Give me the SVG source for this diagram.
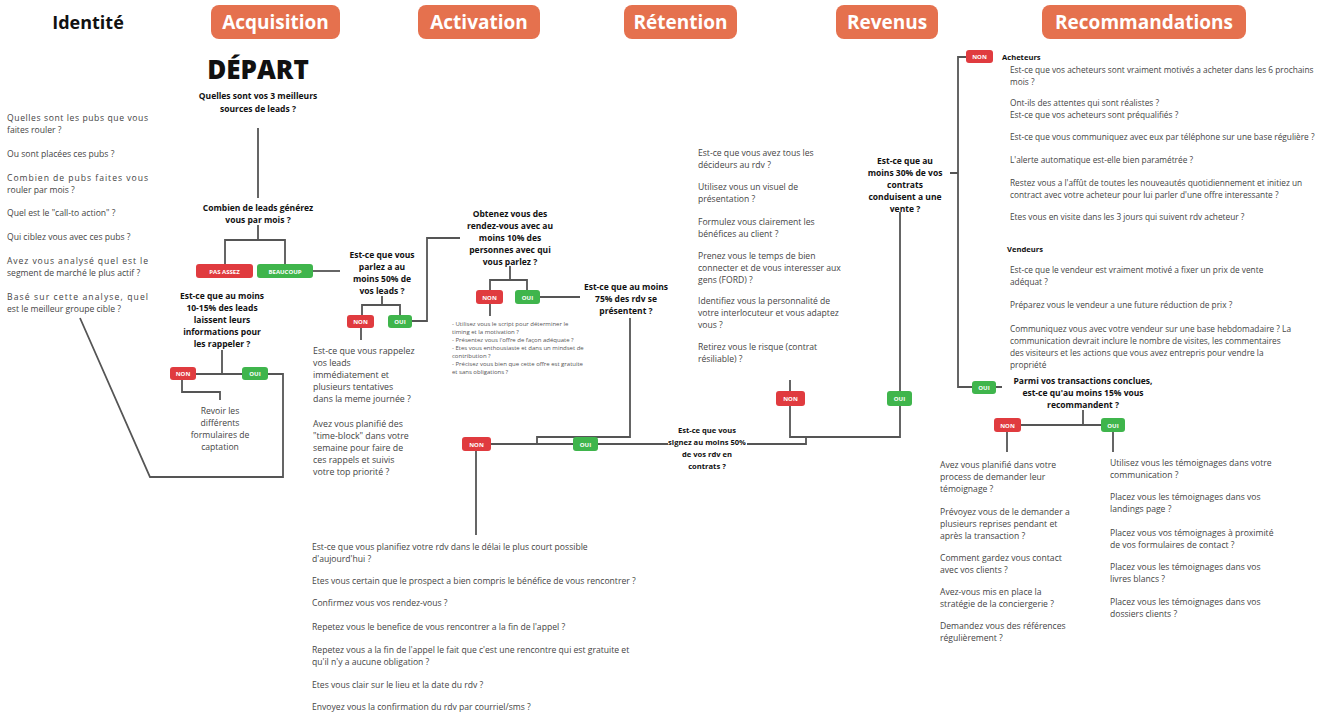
<svg xmlns="http://www.w3.org/2000/svg" width="1341" height="718" viewBox="0 0 1341 718">
<style>
text{font-family:"Open Sans","Liberation Sans",sans-serif;fill:#333}
.h{font-size:19px;font-weight:700;fill:#fff;text-anchor:middle}
.q{font-size:8.5px;font-weight:700;fill:#111;text-anchor:middle}
.t{font-size:8.6px;fill:#444}
.s{font-size:6px;fill:#555}
.bt{font-size:6px;font-weight:700;fill:#fff;text-anchor:middle}
.pill{fill:#E5714E}
.non{fill:#E03B3F}
.oui{fill:#3FB54C}
.c{fill:none;stroke:#555;stroke-width:1.8}
</style>
<rect width="1341" height="718" fill="#fff"/>

<g id="header">
<text x="88" y="29" style="font-size:18px;font-weight:700;fill:#111;text-anchor:middle">Identité</text>
<rect class="pill" x="211" y="5" width="129" height="34" rx="8"/><text class="h" x="275.5" y="29">Acquisition</text>
<rect class="pill" x="418" y="5" width="122" height="34" rx="8"/><text class="h" x="479" y="29">Activation</text>
<rect class="pill" x="624" y="5" width="113" height="34" rx="8"/><text class="h" x="680.5" y="29">Rétention</text>
<rect class="pill" x="836" y="5" width="102" height="34" rx="8"/><text class="h" x="887" y="29">Revenus</text>
<rect class="pill" x="1042" y="5" width="204" height="34" rx="8"/><text class="h" x="1144" y="29">Recommandations</text>
</g>

<g id="connectors">
<path class="c" d="M258 128V198"/>
<path class="c" d="M258 225V240M225 265V240H285V265"/>
<path class="c" d="M313 271H340"/>
<path class="c" d="M222 350V374M196 374H242"/>
<path class="c" d="M268 374H283V477H150L80 318"/>
<path class="c" d="M182 380V392H220V400"/>
<path class="c" d="M382 296V305M362 315V305H400V315"/>
<path class="c" d="M412 321H427V238H460"/>
<path class="c" d="M361 328V340"/>
<path class="c" d="M510 266V280M490 290V280H527V290"/>
<path class="c" d="M540 297H580"/>
<path class="c" d="M490 304V316"/>
<path class="c" d="M630 318V437H537V444"/>
<path class="c" d="M491 444H573M598 444H668"/>
<path class="c" d="M476 451V535"/>
<path class="c" d="M790 380V391M790 406V437H900V406M900 391V212"/>
<path class="c" d="M747 444H806V437"/>
<path class="c" d="M950 173H958M966 57H958V387H972M996 387H1002"/>
<path class="c" d="M1083 410V425M1021 425H1101"/>
<path class="c" d="M1007 432V452M1113 432V452"/>
</g>

<g id="identite">
<text class="t" x="7" y="121" textLength="141" lengthAdjust="spacing">Quelles sont les pubs que vous</text>
<text class="t" x="7" y="133">faites rouler ?</text>
<text class="t" x="7" y="157">Ou sont placées ces pubs ?</text>
<text class="t" x="7" y="181" textLength="141" lengthAdjust="spacing">Combien de pubs faites vous</text>
<text class="t" x="7" y="193">rouler par mois ?</text>
<text class="t" x="7" y="216">Quel est le "call-to action" ?</text>
<text class="t" x="7" y="240">Qui ciblez vous avec ces pubs ?</text>
<text class="t" x="7" y="264" textLength="141" lengthAdjust="spacing">Avez vous analysé quel est le</text>
<text class="t" x="7" y="276">segment de marché le plus actif ?</text>
<text class="t" x="7" y="300" textLength="141" lengthAdjust="spacing">Basé sur cette analyse, quel</text>
<text class="t" x="7" y="312">est le meilleur groupe cible ?</text>
</g>

<g id="depart">
<text x="258" y="79" style="font-size:26px;font-weight:800;fill:#111;text-anchor:middle">DÉPART</text>
<text class="q" x="258" y="99">Quelles sont vos 3 meilleurs</text>
<text class="q" x="258" y="112">sources de leads ?</text>
</g>

<g id="q-combien">
<text class="q" x="258" y="211">Combien de leads générez</text>
<text class="q" x="258" y="223">vous par mois ?</text>
</g>
<g id="b-pasassez"><rect class="non" x="196" y="264" width="57" height="14" rx="3"/><text class="bt" x="224.5" y="273.5">PAS ASSEZ</text></g>
<g id="b-beaucoup"><rect class="oui" x="257" y="264" width="56" height="14" rx="3"/><text class="bt" x="285" y="273.5">BEAUCOUP</text></g>

<g id="q-rappeler">
<text class="q" x="222" y="299">Est-ce que au moins</text>
<text class="q" x="222" y="311">10-15% des leads</text>
<text class="q" x="222" y="323">laissent leurs</text>
<text class="q" x="222" y="335">informations pour</text>
<text class="q" x="222" y="347">les rappeler ?</text>
</g>
<g id="b-non1"><rect class="non" x="170" y="367" width="26" height="13" rx="3"/><text class="bt" x="183" y="376">NON</text></g>
<g id="b-oui1"><rect class="oui" x="242" y="367" width="26" height="13" rx="3"/><text class="bt" x="255" y="376">OUI</text></g>
<g id="t-revoir">
<text class="t" x="220" y="414" text-anchor="middle">Revoir les</text>
<text class="t" x="220" y="426" text-anchor="middle">différents</text>
<text class="t" x="220" y="438" text-anchor="middle">formulaires de</text>
<text class="t" x="220" y="450" text-anchor="middle">captation</text>
</g>

<g id="q-parlez">
<text class="q" x="382" y="258">Est-ce que vous</text>
<text class="q" x="382" y="270">parlez a au</text>
<text class="q" x="382" y="282">moins 50% de</text>
<text class="q" x="382" y="294">vos leads ?</text>
</g>
<g id="b-non2"><rect class="non" x="347" y="315" width="27" height="13" rx="3"/><text class="bt" x="360.5" y="324">NON</text></g>
<g id="b-oui2"><rect class="oui" x="388" y="315" width="24" height="13" rx="3"/><text class="bt" x="400" y="324">OUI</text></g>
<g id="t-rappelez">
<text class="t" x="313" y="354" style="font-size:8.8px">Est-ce que vous rappelez</text>
<text class="t" x="313" y="366" style="font-size:8.8px">vos leads</text>
<text class="t" x="313" y="378" style="font-size:8.8px">immédiatement et</text>
<text class="t" x="313" y="390" style="font-size:8.8px">plusieurs tentatives</text>
<text class="t" x="313" y="402" style="font-size:8.8px">dans la meme journée ?</text>
<text class="t" x="313" y="427" style="font-size:8.8px">Avez vous planifié des</text>
<text class="t" x="313" y="439" style="font-size:8.8px">"time-block" dans votre</text>
<text class="t" x="313" y="451" style="font-size:8.8px">semaine pour faire de</text>
<text class="t" x="313" y="463" style="font-size:8.8px">ces rappels et suivis</text>
<text class="t" x="313" y="475" style="font-size:8.8px">votre top priorité ?</text>
</g>

<g id="q-obtenez">
<text class="q" x="510" y="217">Obtenez vous des</text>
<text class="q" x="510" y="229">rendez-vous avec au</text>
<text class="q" x="510" y="241">moins 10% des</text>
<text class="q" x="510" y="253">personnes avec qui</text>
<text class="q" x="510" y="265">vous parlez ?</text>
</g>
<g id="b-non3"><rect class="non" x="476" y="290" width="27" height="14" rx="3"/><text class="bt" x="489.5" y="299.5">NON</text></g>
<g id="b-oui3"><rect class="oui" x="515" y="290" width="25" height="14" rx="3"/><text class="bt" x="527.5" y="299.5">OUI</text></g>
<g id="t-script">
<text class="s" x="452" y="326">- Utilisez vous le script pour déterminer le</text>
<text class="s" x="452" y="334">timing et la motivation ?</text>
<text class="s" x="452" y="342">- Présentez vous l'offre de façon adéquate ?</text>
<text class="s" x="452" y="350">- Etes vous enthousiaste et dans un mindset de</text>
<text class="s" x="452" y="358">contribution ?</text>
<text class="s" x="452" y="366">- Précisez vous bien que cette offre est gratuite</text>
<text class="s" x="452" y="374">et sans obligations ?</text>
</g>

<g id="q-75">
<text class="q" x="626" y="290">Est-ce que au moins</text>
<text class="q" x="626" y="302">75% des rdv se</text>
<text class="q" x="626" y="314">présentent ?</text>
</g>
<g id="b-non4"><rect class="non" x="462" y="437" width="29" height="14" rx="3"/><text class="bt" x="476.5" y="446.5">NON</text></g>
<g id="b-oui4"><rect class="oui" x="573" y="437" width="25" height="14" rx="3"/><text class="bt" x="585.5" y="446.5">OUI</text></g>

<g id="t-rdv">
<text class="t" x="312" y="550">Est-ce que vous planifiez votre rdv dans le délai le plus court possible</text>
<text class="t" x="312" y="562">d'aujourd'hui ?</text>
<text class="t" x="312" y="584">Etes vous certain que le prospect a bien compris le bénéfice de vous rencontrer ?</text>
<text class="t" x="312" y="606">Confirmez vous vos rendez-vous ?</text>
<text class="t" x="312" y="630">Repetez vous le benefice de vous rencontrer a la fin de l'appel ?</text>
<text class="t" x="312" y="653">Repetez vous a la fin de l'appel le fait que c'est une rencontre qui est gratuite et</text>
<text class="t" x="312" y="665">qu'il n'y a aucune obligation ?</text>
<text class="t" x="312" y="688">Etes vous clair sur le lieu et la date du rdv ?</text>
<text class="t" x="312" y="710">Envoyez vous la confirmation du rdv par courriel/sms ?</text>
</g>

<g id="q-signez">
<text class="q" x="707" y="433" style="font-size:7.6px">Est-ce que vous</text>
<text class="q" x="707" y="445" style="font-size:7.6px">signez au moins 50%</text>
<text class="q" x="707" y="457" style="font-size:7.6px">de vos rdv en</text>
<text class="q" x="707" y="469" style="font-size:7.6px">contrats ?</text>
</g>

<g id="t-retention">
<text class="t" x="698" y="156">Est-ce que vous avez tous les</text>
<text class="t" x="698" y="168">décideurs au rdv ?</text>
<text class="t" x="698" y="190">Utilisez vous un visuel de</text>
<text class="t" x="698" y="202">présentation ?</text>
<text class="t" x="698" y="225">Formulez vous clairement les</text>
<text class="t" x="698" y="237">bénéfices au client ?</text>
<text class="t" x="698" y="259">Prenez vous le temps de bien</text>
<text class="t" x="698" y="271">connecter et de vous interesser aux</text>
<text class="t" x="698" y="283">gens (FORD) ?</text>
<text class="t" x="698" y="304">Identifiez vous la personnalité de</text>
<text class="t" x="698" y="316">votre interlocuteur et vous adaptez</text>
<text class="t" x="698" y="328">vous ?</text>
<text class="t" x="698" y="350">Retirez vous le risque (contrat</text>
<text class="t" x="698" y="362">résiliable) ?</text>
</g>
<g id="b-non5"><rect class="non" x="776" y="391" width="29" height="15" rx="3"/><text class="bt" x="790.5" y="401">NON</text></g>
<g id="b-oui5"><rect class="oui" x="887" y="391" width="25" height="15" rx="3"/><text class="bt" x="899.5" y="401">OUI</text></g>

<g id="q-30">
<text class="q" x="905" y="164">Est-ce que au</text>
<text class="q" x="905" y="176">moins 30% de vos</text>
<text class="q" x="905" y="188">contrats</text>
<text class="q" x="905" y="200">conduisent a une</text>
<text class="q" x="905" y="212">vente ?</text>
</g>

<g id="b-non6"><rect class="non" x="966" y="50" width="27" height="13" rx="3"/><text class="bt" x="979.5" y="59">NON</text></g>
<g id="t-acheteurs">
<text class="q" x="1002" y="60" style="text-anchor:start;font-size:7.6px">Acheteurs</text>
<text class="t" x="1010" y="73" style="font-size:8.3px">Est-ce que vos acheteurs sont vraiment motivés a acheter dans les 6 prochains</text>
<text class="t" x="1010" y="85" style="font-size:8.3px">mois ?</text>
<text class="t" x="1010" y="106" style="font-size:8.3px">Ont-ils des attentes qui sont réalistes ?</text>
<text class="t" x="1010" y="118" style="font-size:8.3px">Est-ce que vos acheteurs sont préqualifiés ?</text>
<text class="t" x="1010" y="140" style="font-size:8.3px">Est-ce que vous communiquez avec eux par téléphone sur une base régulière ?</text>
<text class="t" x="1010" y="163" style="font-size:8.3px">L'alerte automatique est-elle bien paramétrée ?</text>
<text class="t" x="1010" y="186" style="font-size:8.3px">Restez vous a l'affût de toutes les nouveautés quotidiennement et initiez un</text>
<text class="t" x="1010" y="198" style="font-size:8.3px">contract avec votre acheteur pour lui parler d'une offre interessante ?</text>
<text class="t" x="1010" y="220" style="font-size:8.3px">Etes vous en visite dans les 3 jours qui suivent rdv acheteur ?</text>
</g>
<g id="t-vendeurs">
<text class="q" x="1007" y="252" style="text-anchor:start;font-size:7.6px">Vendeurs</text>
<text class="t" x="1010" y="273" style="font-size:8.3px">Est-ce que le vendeur est vraiment motivé a fixer un prix de vente</text>
<text class="t" x="1010" y="285" style="font-size:8.3px">adéquat ?</text>
<text class="t" x="1010" y="308" style="font-size:8.3px">Préparez vous le vendeur a une future réduction de prix ?</text>
<text class="t" x="1010" y="332" style="font-size:8.3px">Communiquez vous avec votre vendeur sur une base hebdomadaire ? La</text>
<text class="t" x="1010" y="344" style="font-size:8.3px">communication devrait inclure le nombre de visites, les commentaires</text>
<text class="t" x="1010" y="356" style="font-size:8.3px">des visiteurs et les actions que vous avez entrepris pour vendre la</text>
<text class="t" x="1010" y="368" style="font-size:8.3px">propriété</text>
</g>
<g id="b-oui6"><rect class="oui" x="972" y="381" width="24" height="13" rx="3"/><text class="bt" x="984" y="390">OUI</text></g>

<g id="q-15">
<text class="q" x="1083" y="384">Parmi vos transactions conclues,</text>
<text class="q" x="1083" y="396">est-ce qu'au moins 15% vous</text>
<text class="q" x="1083" y="408">recommandent ?</text>
</g>
<g id="b-non7"><rect class="non" x="994" y="418" width="27" height="14" rx="3"/><text class="bt" x="1007.5" y="427.5">NON</text></g>
<g id="b-oui7"><rect class="oui" x="1101" y="418" width="24" height="14" rx="3"/><text class="bt" x="1113" y="427.5">OUI</text></g>

<g id="t-temoignage-non">
<text class="t" x="940" y="468">Avez vous planifié dans votre</text>
<text class="t" x="940" y="480">process de demander leur</text>
<text class="t" x="940" y="492">témoignage ?</text>
<text class="t" x="940" y="515">Prévoyez vous de le demander a</text>
<text class="t" x="940" y="527">plusieurs reprises pendant et</text>
<text class="t" x="940" y="539">après la transaction ?</text>
<text class="t" x="940" y="561">Comment gardez vous contact</text>
<text class="t" x="940" y="573">avec vos clients ?</text>
<text class="t" x="940" y="595">Avez-vous mis en place la</text>
<text class="t" x="940" y="607">stratégie de la conciergerie ?</text>
<text class="t" x="940" y="629">Demandez vous des références</text>
<text class="t" x="940" y="641">régulièrement ?</text>
</g>
<g id="t-temoignage-oui">
<text class="t" x="1110" y="466">Utilisez vous les témoignages dans votre</text>
<text class="t" x="1110" y="478">communication ?</text>
<text class="t" x="1110" y="500">Placez vous les témoignages dans vos</text>
<text class="t" x="1110" y="512">landings page ?</text>
<text class="t" x="1110" y="536">Placez vous vos témoignages à proximité</text>
<text class="t" x="1110" y="548">de vos formulaires de contact ?</text>
<text class="t" x="1110" y="570">Placez vous les témoignages dans vos</text>
<text class="t" x="1110" y="582">livres blancs ?</text>
<text class="t" x="1110" y="605">Placez vous les témoignages dans vos</text>
<text class="t" x="1110" y="617">dossiers clients ?</text>
</g>
</svg>
